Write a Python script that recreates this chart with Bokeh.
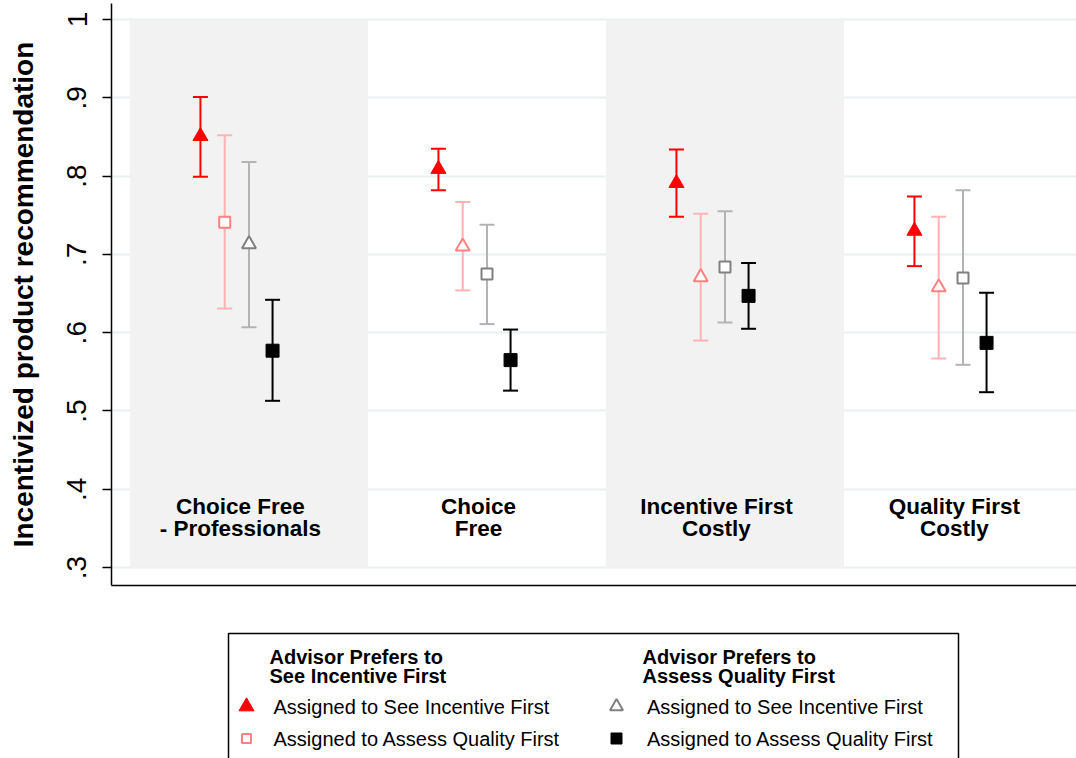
from bokeh.plotting import figure
from bokeh.models import Range1d, FixedTicker, ColumnDataSource
from bokeh.layouts import column
from bokeh.embed import file_html
from bokeh.resources import INLINE
from bokeh.core.properties import value, field

# ---------------- data ----------------
panel_labels = ["Choice Free\n- Professionals", "Choice\nFree",
                "Incentive First\nCostly", "Quality First\nCostly"]

group_titles = ["Advisor Prefers to\nSee Incentive First",
                "Advisor Prefers to\nAssess Quality First"]
series_labels = ["Assigned to See Incentive First",
                 "Assigned to Assess Quality First",
                 "Assigned to See Incentive First",
                 "Assigned to Assess Quality First"]

# Advisor prefers incentive first, assigned incentive first
red_mean = [0.851, 0.809, 0.791, 0.730]
red_lo = [0.799, 0.782, 0.748, 0.685]
red_hi = [0.901, 0.835, 0.834, 0.774]
# Advisor prefers incentive first, assigned quality first
pink_mean = [0.741, 0.710, 0.671, 0.658]
pink_lo = [0.631, 0.654, 0.590, 0.567]
pink_hi = [0.852, 0.767, 0.752, 0.748]
# Advisor prefers quality first, assigned incentive first
gray_mean = [0.713, 0.675, 0.684, 0.670]
gray_lo = [0.607, 0.611, 0.613, 0.559]
gray_hi = [0.818, 0.738, 0.755, 0.782]
# Advisor prefers quality first, assigned quality first
black_mean = [0.577, 0.565, 0.647, 0.587]
black_lo = [0.513, 0.526, 0.605, 0.524]
black_hi = [0.642, 0.604, 0.689, 0.651]

y_ticks = [0.3, 0.4, 0.5, 0.6, 0.7, 0.8, 0.9, 1.0]
y_tick_labels = [".3", ".4", ".5", ".6", ".7", ".8", ".9", "1"]
y_title = "Incentivized product recommendation"

# ---------------- styles ----------------
FONT = "Liberation Sans"
series = [
    dict(mean=red_mean, lo=red_lo, hi=red_hi, bar="#FF0000", line="#FF0000", fill="#FF0000",
         markers=["triangle"] * 4, offset=-0.204),
    dict(mean=pink_mean, lo=pink_lo, hi=pink_hi, bar="#FFB3B3", line="#FF8080", fill="white",
         markers=["square", "triangle", "triangle", "triangle"], offset=-0.102),
    dict(mean=gray_mean, lo=gray_lo, hi=gray_hi, bar="#B3B3B3", line="#808080", fill="white",
         markers=["triangle", "square", "square", "square"], offset=0.0),
    dict(mean=black_mean, lo=black_lo, hi=black_hi, bar="#000000", line="#000000", fill="#000000",
         markers=["square"] * 4, offset=0.099),
]


def msize(marker, filled):
    if marker == "triangle":
        return 15 if filled else 14
    return 13 if filled else 11


n = len(panel_labels)
pos = list(range(1, n + 1))

W = 1076
LEFT = 111
p = figure(width=W, height=600,
           x_range=Range1d(0.4223, 4.4769), y_range=Range1d(0.27714, 1.0204),
           output_backend="svg", toolbar_location=None,
           min_border_left=LEFT, min_border_right=0, min_border_top=3, min_border_bottom=15)
p.outline_line_color = None
p.background_fill_color = "white"
p.border_fill_color = "white"

p.xgrid.visible = False
p.ygrid.ticker = FixedTicker(ticks=y_ticks)
p.ygrid.grid_line_color = "#E8F0F2"
p.ygrid.grid_line_width = 2

p.yaxis.ticker = FixedTicker(ticks=y_ticks)
p.yaxis.major_label_overrides = {t: l for t, l in zip(y_ticks, y_tick_labels)}
p.yaxis.major_label_orientation = "vertical"
p.yaxis.major_label_text_font = FONT
p.yaxis.major_label_text_font_size = "28px"
p.yaxis.major_label_text_color = "black"
p.yaxis.major_label_standoff = 16
p.yaxis.major_tick_out = 9
p.yaxis.major_tick_in = 0
p.yaxis.major_tick_line_width = 1.5
p.yaxis.major_tick_line_color = "black"
p.yaxis.minor_tick_line_color = None
p.yaxis.axis_line_width = 1.5
p.yaxis.axis_line_color = "black"
p.yaxis.axis_label = y_title
p.yaxis.axis_label_text_font = FONT
p.yaxis.axis_label_text_font_style = "bold"
p.yaxis.axis_label_text_font_size = "28px"
p.yaxis.axis_label_text_color = "black"
p.yaxis.axis_label_standoff = 26

p.xaxis.ticker = FixedTicker(ticks=[])
p.xaxis.major_label_text_font_size = "0px"
p.xaxis.major_tick_line_color = None
p.xaxis.minor_tick_line_color = None
p.xaxis.major_label_standoff = 0
p.xaxis.axis_line_width = 1.5
p.xaxis.axis_line_color = "black"

# shaded panels (1st and 3rd)
shaded = [pos[i] for i in range(n) if i % 2 == 0]
p.quad(left=[s - 0.5 for s in shaded], right=[s + 0.5 for s in shaded],
       bottom=y_ticks[0], top=y_ticks[-1], fill_color="#F2F2F2", line_color=None)

# error bars
for s in series:
    xs = [q + s["offset"] for q in pos]
    p.segment(x0=xs, y0=s["lo"], x1=xs, y1=s["hi"], line_color=s["bar"], line_width=2)
    p.scatter(x=xs + xs, y=s["lo"] + s["hi"], marker="dash", size=15,
              line_color=s["bar"], line_width=2)

# markers
for s in series:
    xs = [q + s["offset"] for q in pos]
    filled = s["fill"] != "white"
    src = ColumnDataSource(dict(x=xs, y=s["mean"], marker=s["markers"],
                                size=[msize(m, filled) for m in s["markers"]]))
    p.scatter(x="x", y="y", marker=field("marker"), size="size", source=src,
              fill_color=s["fill"], line_color=s["line"], line_width=1 if filled else 2)

# panel labels
base1, base2 = 0.3780, 0.3499
for q, lab in zip(pos, panel_labels):
    lines = lab.split("\n")
    p.text(x=[q - 0.036] * len(lines), y=[base1, base2][:len(lines)], text=lines,
           text_font=value(FONT), text_font_style="bold", text_font_size="22.5px",
           text_align="center", text_baseline="alphabetic", text_color="black")

# ---------------- legend ----------------
lg = figure(width=W, height=158, x_range=Range1d(LEFT, W), y_range=Range1d(758, 600),
            output_backend="svg", toolbar_location=None,
            min_border_left=LEFT, min_border_right=0, min_border_top=0, min_border_bottom=0)
lg.axis.visible = False
lg.grid.visible = False
lg.outline_line_color = None
lg.background_fill_color = "white"
lg.border_fill_color = "white"

lg.quad(left=[228], right=[958], top=[633], bottom=[800], fill_color=None,
        line_color="black", line_width=1.5)

col_x = [269, 642]
item_x = [273, 646.5]
mark_x = [246, 616]
for ci, title in enumerate(group_titles):
    tl = title.split("\n")
    lg.text(x=[col_x[ci]] * len(tl), y=[656, 675.5][:len(tl)], text=tl,
            text_font=value(FONT), text_font_style="bold", text_font_size="20px",
            text_align="left", text_baseline="alphabetic", text_color="black")
    for ri in range(2):
        si = ci * 2 + ri
        s = series[si]
        lg.text(x=[item_x[ci]], y=[[706.5, 738][ri]], text=[series_labels[si]],
                text_font=value(FONT), text_font_size="20px",
                text_align="left", text_baseline="alphabetic", text_color="black")
        m = s["markers"][0]
        filled = s["fill"] != "white"
        my = [706, 738][ri]
        lg.scatter(x=[mark_x[ci]], y=[my], marker=m,
                   size=(15 if m == "triangle" else 11) if filled else (13 if m == "triangle" else 9),
                   fill_color=s["fill"], line_color=s["line"], line_width=1 if filled else 2)

layout = column(p, lg, spacing=0)
open("out.html", "w").write(file_html(layout, INLINE))
